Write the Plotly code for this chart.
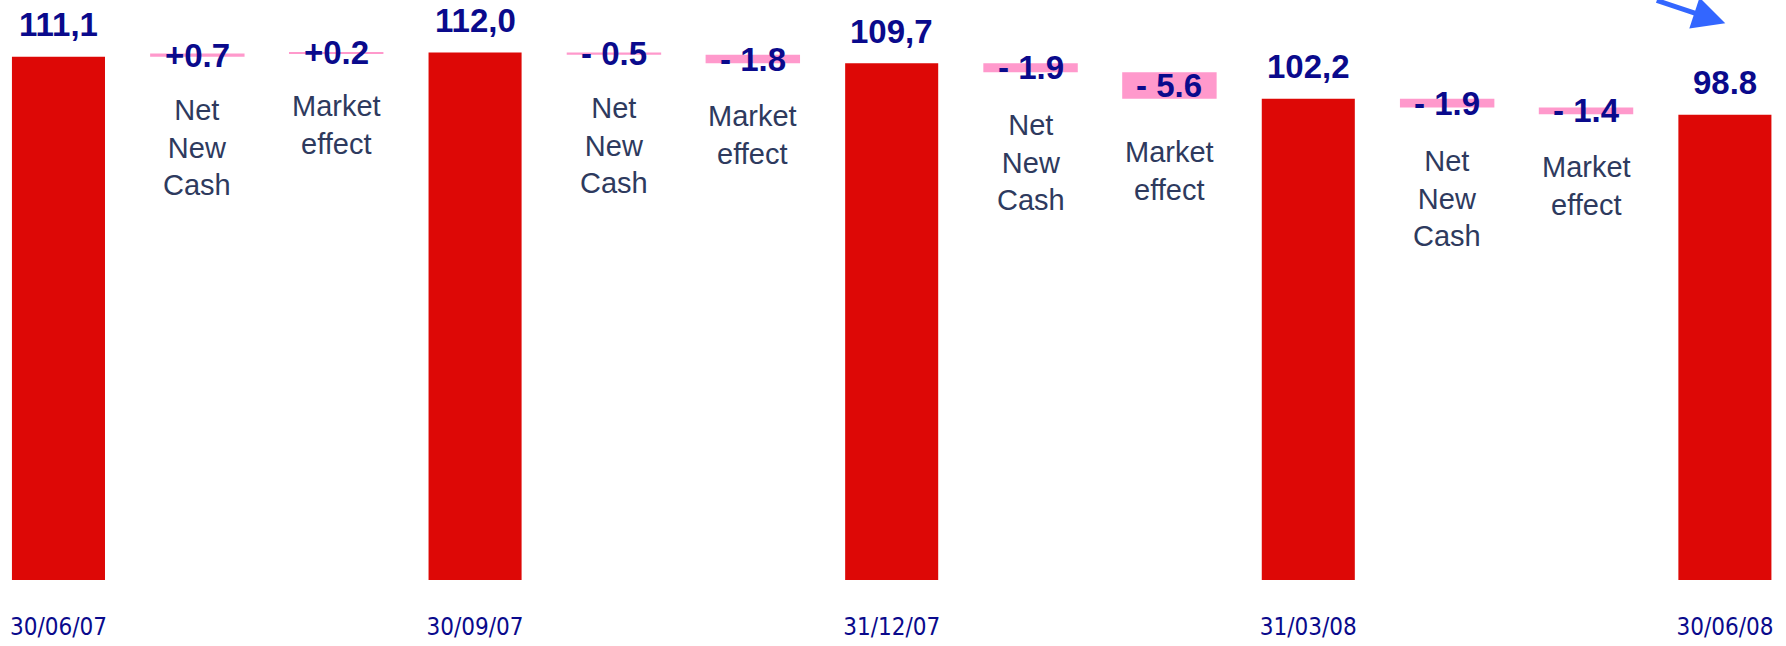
import plotly.graph_objects as go

# waterfall: quarter-end totals with net new cash / market effect in between
dates = ["30/06/07", "30/09/07", "31/12/07", "31/03/08", "30/06/08"]
totals = [111.1, 112.0, 109.7, 102.2, 98.8]
total_labels = ["111,1", "112,0", "109,7", "102,2", "98.8"]

# two moves per quarter: net new cash, then market effect
nnc = [0.7, -0.5, -1.9, -1.9]
mkt = [0.2, -1.8, -5.6, -1.4]
nnc_labels = ["+0.7", "- 0.5", "- 1.9", "- 1.9"]
mkt_labels = ["+0.2", "- 1.8", "- 5.6", "- 1.4"]
move_names = ["Net<br>New<br>Cash", "Market<br>effect"]

RED = "#DD0806"
PINK = "#FF99CC"
NAVY = "#0A0A8C"
SLATE = "#2E3A5E"
PX_PER_UNIT = 4.71

# slot positions: total, nnc, mkt, total, nnc, mkt, ...
tot_x = [3 * i for i in range(len(totals))]
mv_x, mv_base, mv_val, mv_lab, mv_name = [], [], [], [], []
for q in range(len(nnc)):
    level = totals[q]
    for k, (v, lab) in enumerate([(nnc[q], nnc_labels[q]), (mkt[q], mkt_labels[q])]):
        mv_x.append(3 * q + 1 + k)
        mv_base.append(level)
        mv_val.append(v)
        mv_lab.append(lab)
        mv_name.append(move_names[k])
        level += v

fig = go.Figure()
fig.add_trace(go.Bar(x=tot_x, y=totals, width=0.67, marker_color=RED,
                     marker_line_width=0, hoverinfo="skip"))
fig.add_trace(go.Bar(x=mv_x, y=mv_val, base=mv_base, width=0.68, marker_color=PINK,
                     marker_line_width=0, hoverinfo="skip"))

for x, v, lab in zip(tot_x, totals, total_labels):
    fig.add_annotation(x=x, y=v, text=f"<b>{lab}</b>", showarrow=False, yanchor="middle",
                       yshift=32, font=dict(family="Liberation Sans", size=33, color=NAVY))

for x, b, v, lab, name in zip(mv_x, mv_base, mv_val, mv_lab, mv_name):
    fig.add_annotation(x=x, y=b + v / 2, text=f"<b>{lab}</b>", showarrow=False,
                       yanchor="middle", font=dict(family="Liberation Sans", size=33, color=NAVY))
    fig.add_annotation(x=x, y=min(b, b + v), text=name, showarrow=False, yanchor="top",
                       yshift=-35, font=dict(family="Liberation Sans", size=29, color=SLATE))

# blue arrow cut off at the top right
fig.add_annotation(xref="paper", yref="paper", x=0.966, y=0.96, ax=-70, ay=-40,
                   showarrow=True, arrowhead=2, arrowsize=1.3, arrowwidth=5,
                   arrowcolor="#3366FF", text="")

fig.update_layout(
    width=1786, height=646, showlegend=False, barmode="overlay",
    plot_bgcolor="white", paper_bgcolor="white",
    margin=dict(l=0, r=0, t=0, b=66),
    xaxis=dict(range=[-0.421, 12.44], tickvals=tot_x, ticktext=dates, showgrid=False,
               zeroline=False, showline=False, ticks="", ticklabelstandoff=30,
               tickfont=dict(family="DejaVu Sans Condensed, Liberation Sans", size=24,
                             color=NAVY)),
    yaxis=dict(range=[0, 580 / PX_PER_UNIT], visible=False, showgrid=False, zeroline=False),
)

fig.write_html("out.html", config={"displayModeBar": False},
               post_script="document.body.style.margin='0';")
